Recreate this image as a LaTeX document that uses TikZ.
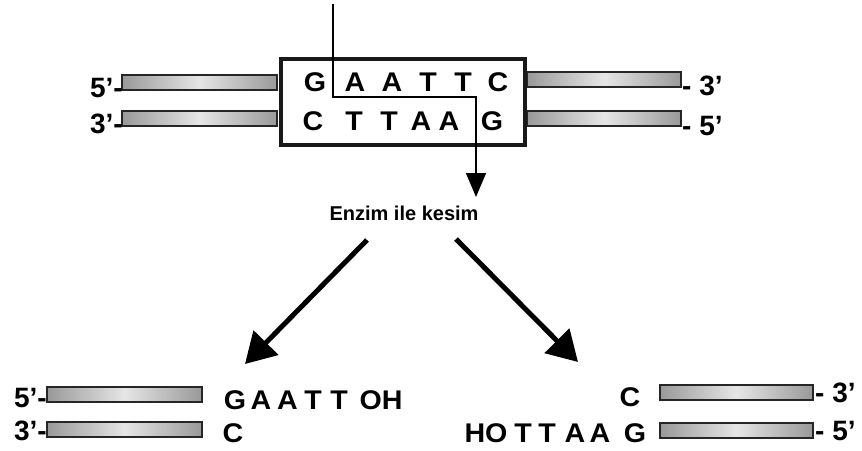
\documentclass[tikz,border=0pt]{standalone}
\usepackage{fontspec}
\setmainfont{Liberation Sans}
\newfontfamily\widesans[FakeStretch=1.06]{Liberation Sans}
\usetikzlibrary{arrows.meta}
\tikzset{
  bar/.style={draw=black!85, line width=1.6pt, left color=black!40, right color=black!40, middle color=black!10, rectangle, inner sep=0pt},
  base/.style={inner sep=0pt, anchor=base, font=\widesans\fontsize{27}{27}\selectfont\bfseries},
  lowbase/.style={inner sep=0pt, anchor=base, font=\widesans\fontsize{27}{27}\selectfont\bfseries},
  endl/.style={inner sep=0pt, anchor=base east, font=\fontsize{28}{28}\selectfont\bfseries},
  endr/.style={inner sep=0pt, anchor=base west, font=\fontsize{28}{28}\selectfont\bfseries},
  bigarrow/.style={line width=5pt, -{Triangle[length=30pt,width=34pt]}},
  cutline/.style={line width=1.4pt, -{Triangle[length=24pt,width=20pt]}}
}
\begin{document}
\begin{tikzpicture}[x=1pt,y=-1pt]
\useasboundingbox (0,0) rectangle (862,450);
% top strands
\node[bar, minimum width=155pt, minimum height=15pt] (bl1) at (199.5,82.5) {};
\node[bar, minimum width=155pt, minimum height=15pt] (bl2) at (199.5,118.5) {};
\node[bar, minimum width=154pt, minimum height=15pt] (br1) at (604,79.5) {};
\node[bar, minimum width=154pt, minimum height=15pt] (br2) at (604,118.5) {};
\node[draw=black!90, line width=4pt, fill=white, minimum width=244.5pt, minimum height=86.5pt, inner sep=0pt] (box) at (402.75,101.75) {};
% letters
\node[base] (t1) at (315,91) {G};
\node[base] (t2) at (355,91) {A};
\node[base] (t3) at (392,91) {A};
\node[base] (t4) at (428,91) {T};
\node[base] (t5) at (463,91) {T};
\node[base] (t6) at (498,91) {C};
\node[base] (u1) at (313,130) {C};
\node[base] (u2) at (354,130) {T};
\node[base] (u3) at (389,130) {T};
\node[base] (u4) at (421,130) {A};
\node[base] (u5) at (449,130) {A};
\node[base] (u6) at (492,130) {G};
% end labels
\node[endl] (l5) at (123,97) {5’-};
\node[endl] (l3) at (123,133) {3’-};
\node[endr] (r3) at (682,95) {- 3’};
\node[endr] (r5) at (682,135) {- 5’};
% cut line
\coordinate (cuttop) at (333,4);
\coordinate (cutmid) at (476,97);
\coordinate (cuttip) at (476,197);
\draw[cutline] (cuttop) |- (cutmid) -- (cuttip);
% enzyme
\node[inner sep=0pt, anchor=base, font=\fontsize{20}{20}\selectfont\bfseries] (enz) at (404,220) {Enzim ile kesim};
\coordinate (la) at (367,240);
\coordinate (lb) at (245,364);
\coordinate (ra) at (456,239);
\coordinate (rb) at (578,362);
\draw[bigarrow] (la) -- (lb);
\draw[bigarrow] (ra) -- (rb);
% bottom left fragment
\node[bar, minimum width=155pt, minimum height=15pt] (bbl1) at (124.5,394.5) {};
\node[bar, minimum width=155pt, minimum height=15pt] (bbl2) at (124.5,429.5) {};
\node[endl] (bl5) at (47,407) {5’-};
\node[endl] (bl3) at (47,440) {3’-};
\node[lowbase] (g1) at (235,409) {G};
\node[lowbase] (g2) at (261,409) {A};
\node[lowbase] (g3) at (287.5,409) {A};
\node[lowbase] (g4) at (313,409) {T};
\node[lowbase] (g5) at (339,409) {T};
\node[lowbase] (g6) at (381,409) {OH};
\node[lowbase] (g7) at (233,442) {C};
% bottom right fragment
\node[bar, minimum width=153pt, minimum height=15pt] (bbr1) at (736.5,392.5) {};
\node[bar, minimum width=153pt, minimum height=15pt] (bbr2) at (736.5,430.5) {};
\node[endr] (br3) at (815,402) {- 3’};
\node[endr] (br5) at (815,440) {- 5’};
\node[lowbase] (h0) at (630,406) {C};
\node[lowbase] (h1) at (486,442) {HO};
\node[lowbase] (h2) at (523,442) {T};
\node[lowbase] (h3) at (547,442) {T};
\node[lowbase] (h4) at (575,442) {A};
\node[lowbase] (h5) at (600,442) {A};
\node[lowbase] (h6) at (635,442) {G};
\end{tikzpicture}
\end{document}
